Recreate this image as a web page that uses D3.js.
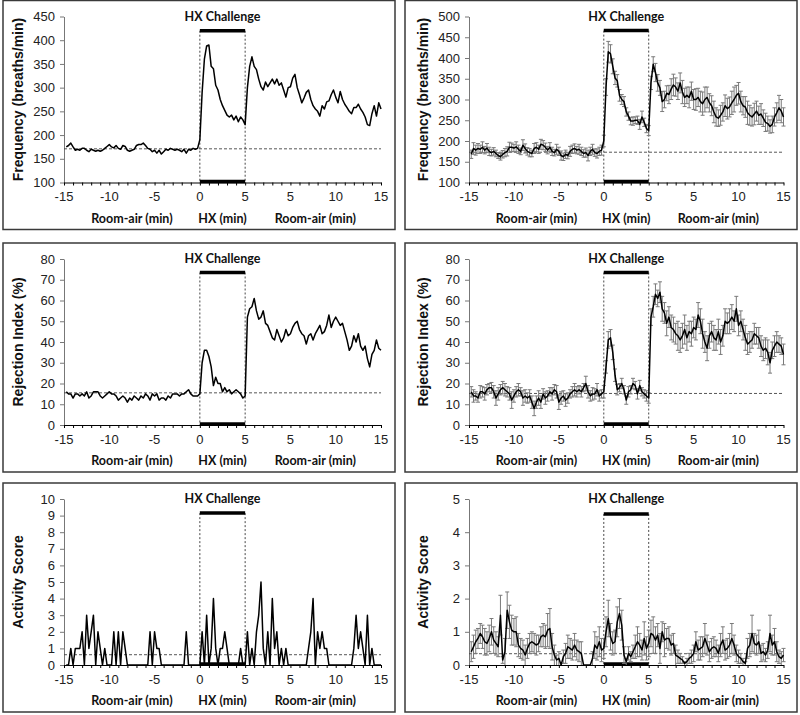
<!DOCTYPE html>
<html>
<head>
<meta charset="utf-8">
<script src="https://cdn.jsdelivr.net/npm/d3@7"></script>
<style>
    body { margin: 0; background: #fff; }
</style>
</head>
<body>
<div class="hx-chart"></div>
<script>
// sampling of every series: one value each 15 s, first at -14.75 min
const firstMinute = -14.75;
const stepMinutes = 0.25;

const xTickValues = [-15, -10, -5, 0, 5, 10, 15, 20];
const xTickLabels = ["-15", "-10", "-5", "0", "5", "5", "10", "15"];
const phaseLabels = ["Room-air (min)", "HX (min)", "Room-air (min)"];
const phaseCenters = [-7.5, 2.5, 12.75];
const hxWindow = [0, 5];

const yTitles = ["Frequency (breaths/min)", "Frequency (breaths/min)", "Rejection Index (%)", "Rejection Index (%)", "Activity Score", "Activity Score"];
const yDomains = [[100, 450], [100, 500], [0, 80], [0, 80], [0, 10], [0, 5]];
const yTickSteps = [50, 50, 10, 10, 1, 1];
const baselines = [171, 173, 15.5, 15.2, 0.62, 0.34];
const hxBarLevels = [420, 466, 73.5, 73.5, 9.15, 4.55];

const freqSingle = [
    175,178,183,175,168,170,168,172,172,168,165,170,168,166,168,166,168,172,176,180,
    175,173,178,172,170,178,176,168,166,168,170,178,180,180,183,178,172,170,165,168,
    162,168,160,165,170,168,172,170,168,170,168,165,170,162,170,168,172,170,172,190,
    290,360,388,390,345,340,305,295,275,262,252,242,238,242,232,240,228,238,232,222,
    300,345,365,345,338,318,302,295,312,302,310,318,308,318,305,310,295,280,300,302,
    320,328,300,285,268,278,290,295,275,262,255,250,240,262,255,270,272,285,295,280,
    268,292,275,265,258,250,245,258,258,265,255,248,238,222,220,245,262,240,268,255
];

const freqMean = [
    168,182,178,182,180,185,178,183,175,172,175,170,165,162,168,172,175,185,185,183,
    186,180,175,190,182,175,172,170,182,185,180,192,190,185,178,185,175,172,180,175,
    165,162,168,165,175,180,182,178,180,175,170,172,165,175,180,172,170,175,178,200,
    330,415,410,380,352,345,310,300,295,270,260,248,248,250,250,240,258,245,230,225,
    340,385,365,340,328,295,300,315,312,325,335,330,320,340,318,305,310,305,320,300,
    300,305,295,290,300,305,292,285,270,258,255,262,270,285,278,282,292,300,310,315,
    295,285,282,268,262,258,265,272,262,265,255,245,242,235,240,258,268,280,272,258
];
const freqSem = [
    10,14,12,12,10,13,9,11,10,8,9,8,7,8,9,10,11,12,10,9,
    12,10,8,13,11,9,10,8,12,11,10,12,11,10,9,11,10,8,12,10,
    11,9,10,8,12,10,11,9,12,10,9,11,13,10,12,9,11,10,12,14,
    20,25,22,18,16,15,14,12,12,10,10,9,10,8,10,12,14,10,10,12,
    16,18,22,20,18,24,20,18,22,25,26,22,20,24,28,22,20,25,22,24,
    26,22,25,28,30,25,22,24,26,22,20,24,22,26,25,24,28,30,24,26,
    25,22,25,28,24,22,26,24,22,25,20,22,18,16,20,22,24,30,28,22
];

const rejSingle = [
    16,15,15,13,15,15,14,15,14,16,13,14,16,16,16,14,13,14,15,16,
    15,15,14,12,13,14,13,11,13,12,14,13,12,14,13,15,14,12,15,14,
    15,12,13,13,12,14,13,15,15,15,14,15,15,16,17,15,14,14,14,15,
    30,36,36,33,28,19,23,20,20,16,18,16,17,15,16,17,16,15,13,14,
    52,56,57,61,55,51,52,55,49,48,45,42,41,46,43,40,42,46,43,44,
    47,49,50,46,44,43,39,43,44,41,44,46,48,44,45,48,53,47,50,52,
    50,48,49,45,41,36,38,43,40,44,38,36,38,32,28,34,36,41,37,36
];

const rejMean = [
    16,14,14,13,16,16,15,17,18,18,16,13,15,17,18,17,16,15,12,14,
    16,17,16,13,14,13,14,11,8,11,13,11,15,13,14,16,15,17,16,11,
    13,14,12,13,15,16,17,16,17,16,18,20,16,14,15,15,17,14,15,16,
    28,41,42,35,24,17,18,20,17,12,16,17,20,19,15,19,16,15,14,13,
    52,57,63,61,64,56,54,49,52,47,46,44,43,41,43,46,42,45,44,47,
    46,53,50,44,40,37,43,45,42,41,45,40,43,50,49,50,52,50,56,48,
    50,46,42,39,40,41,44,43,42,38,36,37,35,30,36,38,40,39,38,34
];
const rejSem = [
    2.5,3,2,2,3,2.5,3,2.5,2,2.5,3,3.5,3,2.5,3,3,2.5,3,4,3,
    2.5,3,2,3.5,3,2.5,3,3,3.5,3,3.5,3,2.5,3,2.5,2,3,2.5,3,3.5,
    3,2.5,3,2.5,2,2.5,3,2.5,2,2.5,2,3.5,3,2.5,3,2.5,3,2.5,2,3,
    3,4,4,3.5,3,2.5,2,2.5,2,2,2.5,2,2.5,2,2.5,2.5,2,2,2.5,2.5,
    4,5,5,4,5,6,5,6,5,6,6,5,7,6,6,7,6,5,6,5,
    5,6,6,7,5,6,6,5,6,5,6,6,5,6,5,6,6,5,6,5,
    5,5,6,5,5,4,5,4,5,5,5,5,6,5,4,5,5,4,4,5
];

const actSingle = [
    0,0,1,0,1,1,1,2,0,3,1,2,3,0,2,1,0,1,0,0,
    0,2,0,2,0,2,1,0,0,0,0,0,0,0,0,0,0,2,0,2,
    1,1,0,0,0,0,0,0,0,0,0,0,0,2,0,0,0,0,0,0,
    2,0,3,0,1,4,1,0,1,1,2,1,0,0,0,0,0,1,0,0,
    2,0,1,0,2,3,5,1,0,2,0,4,1,2,0,1,0,1,0,0,
    0,0,0,0,0,0,0,1,2,4,0,2,1,2,1,1,0,0,0,0,
    0,0,0,0,0,0,0,1,3,1,2,1,0,3,0,1,0,0,0,0
];

const actMean = [
    0.40,0.55,0.70,0.80,0.95,0.85,0.70,0.65,0.80,1.00,0.75,0.65,0.55,1.50,0.15,0.40,1.65,1.30,1.05,1.00,
    1.00,0.60,0.50,0.45,0.30,0.50,0.65,0.70,0.65,0.60,0.65,0.85,0.90,0.85,1.05,1.10,0.55,0.30,0.15,0.20,
    0.00,0.25,0.35,0.55,0.50,0.45,0.60,0.45,0.40,0.35,0.00,0.00,0.00,0.00,0.20,0.60,0.50,0.70,0.45,0.50,
    1.00,1.40,0.85,0.65,0.70,1.30,1.55,1.20,0.30,0.10,0.35,0.25,0.40,0.55,0.70,0.60,0.45,0.80,0.50,0.65,
    0.95,0.90,0.75,0.90,0.50,1.00,0.75,0.80,0.80,0.60,0.65,0.30,0.25,0.20,0.15,0.05,0.10,0.20,0.25,0.35,
    0.70,0.45,0.50,0.55,0.80,0.60,0.40,0.50,0.55,0.50,0.35,0.60,0.75,0.45,0.50,0.60,0.80,0.60,0.35,0.25,
    0.20,0.10,0.05,0.50,0.60,0.95,0.65,0.60,0.70,0.35,0.40,0.30,0.45,0.95,0.60,0.70,0.40,0.25,0.20,0.30
];
const actSem = [
    0.30,0.35,0.35,0.30,0.30,0.35,0.40,0.35,0.40,0.40,0.40,0.35,0.30,0.60,0.10,0.40,0.55,0.50,0.45,0.40,
    0.45,0.35,0.30,0.30,0.30,0.30,0.30,0.30,0.30,0.30,0.25,0.30,0.35,0.35,0.50,0.60,0.40,0.30,0.15,0.20,
    0.00,0.20,0.30,0.35,0.30,0.30,0.35,0.30,0.30,0.35,0.00,0.00,0.00,0.00,0.20,0.40,0.35,0.45,0.35,0.30,
    0.45,0.55,0.40,0.35,0.35,0.45,0.45,0.45,0.25,0.10,0.20,0.15,0.20,0.35,0.45,0.35,0.30,0.50,0.35,0.40,
    0.40,0.55,0.40,0.35,0.45,0.30,0.50,0.30,0.35,0.30,0.30,0.30,0.20,0.15,0.10,0.05,0.10,0.15,0.20,0.25,
    0.30,0.30,0.35,0.30,0.45,0.30,0.30,0.30,0.30,0.25,0.25,0.35,0.40,0.30,0.30,0.35,0.45,0.30,0.25,0.20,
    0.15,0.10,0.05,0.30,0.35,0.55,0.30,0.30,0.35,0.25,0.25,0.20,0.25,0.55,0.30,0.40,0.30,0.20,0.20,0.20
];

const seriesValues = [freqSingle, freqMean, rejSingle, rejMean, actSingle, actMean];
const seriesSem = [null, freqSem, null, rejSem, null, actSem];

const width = 800;
const height = 715;
const boxLeft = [3, 405];
const boxTop = [0.5, 243, 483];
const boxW = 392;
const boxH = 229;
const plotX = [[64, 381], [469, 783.5]];
const plotTop = 16;
const plotBottom = 182;

const boldFont = "Lato, 'Open Sans', sans-serif";
const tickFont = "'Liberation Sans', Arial, sans-serif";

const svg = d3.select(".hx-chart")
    .append("svg")
    .attr("width", width)
    .attr("height", height);

seriesValues.forEach((values, k) => {
    const col = k % 2;
    const row = Math.floor(k / 2);
    const top = boxTop[row];
    const sem = seriesSem[k];
    const [yMin, yMax] = yDomains[k];

    const g = svg.append("g");

    g.append("rect")
        .attr("x", boxLeft[col])
        .attr("y", top)
        .attr("width", boxW)
        .attr("height", boxH)
        .attr("fill", "none")
        .attr("stroke", "#3a3a3a")
        .attr("stroke-width", 1.5);

    const x = d3.scaleLinear()
        .domain([-15, 20])
        .range(plotX[col]);

    const y = d3.scaleLinear()
        .domain([yMin, yMax])
        .range([top + plotBottom, top + plotTop]);

    const points = values.map((v, i) => ({t: firstMinute + i * stepMinutes, v: v, s: sem ? sem[i] : 0}));

    // y axis
    const yAxis = g.append("g")
        .attr("transform", `translate(${x(-15)}, 0)`)
        .call(d3.axisLeft(y)
            .tickValues(d3.range(yMin, yMax + yTickSteps[k] / 2, yTickSteps[k]))
            .tickFormat(d3.format("d"))
            .tickSize(4)
            .tickSizeOuter(0)
            .tickPadding(5));
    yAxis.select(".domain").attr("stroke", "#777");
    yAxis.selectAll(".tick line").attr("stroke", "#777");
    yAxis.selectAll("text")
        .style("font-family", tickFont)
        .style("font-size", "13px")
        .attr("fill", "#222");

    // x axis, one tick per minute
    const xAxis = g.append("g")
        .attr("transform", `translate(0, ${y(yMin)})`)
        .call(d3.axisBottom(x)
            .tickValues(d3.range(-15, 21))
            .tickSize(3)
            .tickSizeOuter(0)
            .tickFormat(""));
    xAxis.select(".domain").attr("stroke", "#000");

    g.selectAll(".xlab")
        .data(xTickValues)
        .enter()
        .append("text")
        .attr("x", d => x(d))
        .attr("y", y(yMin) + 18.5)
        .attr("text-anchor", "middle")
        .style("font-family", tickFont)
        .style("font-size", "13px")
        .attr("fill", "#222")
        .text((d, i) => xTickLabels[i]);

    g.selectAll(".phase")
        .data(phaseCenters)
        .enter()
        .append("text")
        .attr("x", d => x(d))
        .attr("y", y(yMin) + 40)
        .attr("text-anchor", "middle")
        .style("font-family", boldFont)
        .style("font-weight", "bold")
        .style("font-size", "12.5px")
        .attr("fill", "#111")
        .text((d, i) => phaseLabels[i]);

    g.append("text")
        .attr("transform", `translate(${x(-15) - 46}, ${(y(yMin) + y(yMax)) / 2}) rotate(-90)`)
        .attr("text-anchor", "middle")
        .attr("dy", "0.35em")
        .style("font-family", tickFont)
        .style("font-weight", "bold")
        .style("font-size", "14px")
        .attr("fill", "#111")
        .text(yTitles[k]);

    // room-air baseline
    g.append("line")
        .attr("x1", x(-15))
        .attr("x2", x(20))
        .attr("y1", y(baselines[k]))
        .attr("y2", y(baselines[k]))
        .attr("stroke", "#444")
        .attr("stroke-width", 0.9)
        .attr("stroke-dasharray", "3,2");

    // HX challenge window
    hxWindow.forEach(t => {
        g.append("line")
            .attr("x1", x(t))
            .attr("x2", x(t))
            .attr("y1", y(hxBarLevels[k]))
            .attr("y2", y(yMin))
            .attr("stroke", "#333")
            .attr("stroke-width", 0.9)
            .attr("stroke-dasharray", "2,2");
    });
    g.append("line")
        .attr("x1", x(hxWindow[0]))
        .attr("x2", x(hxWindow[1]))
        .attr("y1", y(hxBarLevels[k]))
        .attr("y2", y(hxBarLevels[k]))
        .attr("stroke", "#000")
        .attr("stroke-width", 3.5);
    g.append("line")
        .attr("x1", x(hxWindow[0]))
        .attr("x2", x(hxWindow[1]))
        .attr("y1", y(yMin) - 1)
        .attr("y2", y(yMin) - 1)
        .attr("stroke", "#000")
        .attr("stroke-width", 3.5);

    g.append("text")
        .attr("x", x((hxWindow[0] + hxWindow[1]) / 2))
        .attr("y", y(yMax))
        .attr("dy", "0.35em")
        .attr("text-anchor", "middle")
        .style("font-family", boldFont)
        .style("font-weight", "bold")
        .style("font-size", "12.5px")
        .attr("fill", "#111")
        .text("HX Challenge");

    // SEM error bars
    if (sem) {
        const bars = g.append("g")
            .attr("stroke", "#7a7a7a")
            .attr("stroke-width", 1);
        const withErr = points.filter(d => d.s > 0);
        bars.selectAll(".eb")
            .data(withErr)
            .enter()
            .append("line")
            .attr("x1", d => x(d.t))
            .attr("x2", d => x(d.t))
            .attr("y1", d => y(Math.max(yMin, d.v - d.s)))
            .attr("y2", d => y(d.v + d.s));
        bars.selectAll(".capTop")
            .data(withErr)
            .enter()
            .append("line")
            .attr("x1", d => x(d.t) - 2)
            .attr("x2", d => x(d.t) + 2)
            .attr("y1", d => y(d.v + d.s))
            .attr("y2", d => y(d.v + d.s));
        bars.selectAll(".capBot")
            .data(withErr.filter(d => d.v - d.s > yMin))
            .enter()
            .append("line")
            .attr("x1", d => x(d.t) - 2)
            .attr("x2", d => x(d.t) + 2)
            .attr("y1", d => y(d.v - d.s))
            .attr("y2", d => y(d.v - d.s));
    }

    g.append("path")
        .datum(points)
        .attr("fill", "none")
        .attr("stroke", "#000")
        .attr("stroke-width", 1.5)
        .attr("stroke-linejoin", "round")
        .attr("d", d3.line().x(d => x(d.t)).y(d => y(d.v)));
});
</script>
</body>
</html>
